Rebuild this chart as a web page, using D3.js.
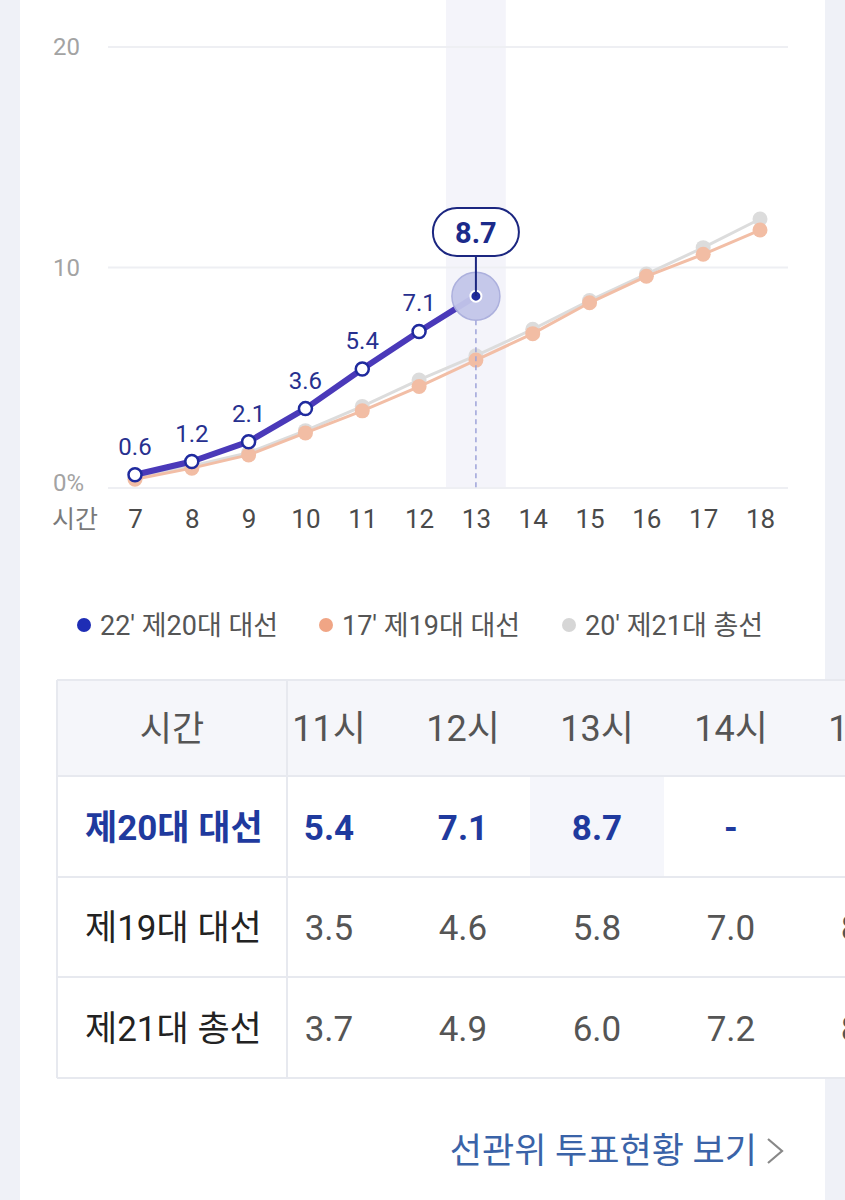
<!DOCTYPE html>
<html><head><meta charset="utf-8">
<script src="https://cdn.jsdelivr.net/npm/d3@7"></script>
<style>
html,body{margin:0;padding:0;background:#eff1f7;}
svg{display:block;}
text{font-family:Roboto,"Noto Sans CJK KR","Noto Sans",sans-serif;}
</style></head>
<body>
<svg id="c" width="845" height="1200"></svg>
<script>
// ---- data ----
const hours = [7,8,9,10,11,12,13,14,15,16,17,18];
const yTicks = [0,10,20];
const s20 = [0.6,1.2,2.1,3.6,5.4,7.1,8.7];                       // 22' 제20대 대선 (7~13시)
const s19 = [0.4,0.9,1.5,2.5,3.5,4.6,5.8,7.0,8.4,9.6,10.6,11.7];  // 17' 제19대 대선
const s21 = [0.5,1.0,1.6,2.6,3.7,4.9,6.0,7.2,8.5,9.7,10.9,12.2];  // 20' 제21대 총선
const legendLabels = ["22' 제20대 대선","17' 제19대 대선","20' 제21대 총선"];
const tableHours = [11,12,13,14,15];
const rowLabels = ["제20대 대선","제19대 대선","제21대 총선"];
const currentHour = 13;

const FONT = 'Roboto,"Noto Sans CJK KR",sans-serif';
const svg = d3.select("#c");
svg.append("rect").attr("x",0).attr("y",0).attr("width",845).attr("height",1200).attr("fill","#eff1f7");
svg.append("rect").attr("x",20).attr("y",0).attr("width",805).attr("height",1200).attr("fill","#fff");

const x = d3.scalePoint().domain(hours).range([135,760]);
const y = d3.scaleLinear().domain([0,20]).range([488,47]);
const step = x.step();

// highlight band
svg.append("rect").attr("x",x(currentHour)-step/2-1.5).attr("y",0)
  .attr("width",step+3).attr("height",y(0)).attr("fill","#f4f4fa");

// grid
const grid = svg.append("g");
grid.selectAll("line").data(yTicks).join("line")
  .attr("x1",108).attr("x2",788).attr("y1",d=>y(d)).attr("y2",d=>y(d))
  .attr("stroke","#eeeff3").attr("stroke-width",2);
grid.selectAll("text").data(yTicks).join("text")
  .attr("x",53).attr("y",d=>d===0?y(d)+3:y(d)+8)
  .attr("font-size",24).attr("fill","#a3a3a3")
  .text(d=>d===0?"0%":d);

// x axis labels
const xa = svg.append("g").attr("transform","translate(0,528)")
  .call(d3.axisBottom(x).tickSize(0).tickPadding(0));
xa.select(".domain").remove();
xa.selectAll("text").attr("font-size",26).attr("fill","#4a4a4a").attr("dy","0")
  .style("font-family",FONT);
svg.append("text").attr("x",52).attr("y",528).attr("font-size",25).attr("fill","#7a7a7a").text("시간");

const line = d3.line().x((d,i)=>x(hours[i])).y(d=>y(d));

// gray series
svg.append("path").attr("d",line(s21)).attr("fill","none").attr("stroke","#dcdcdc").attr("stroke-width",3);
svg.append("g").selectAll("circle").data(s21).join("circle")
  .attr("cx",(d,i)=>x(hours[i])).attr("cy",d=>y(d)).attr("r",7.5).attr("fill","#dcdcdc");
// orange series
svg.append("path").attr("d",line(s19)).attr("fill","none").attr("stroke","#f2bea6").attr("stroke-width",3);
svg.append("g").selectAll("circle").data(s19).join("circle")
  .attr("cx",(d,i)=>x(hours[i])).attr("cy",d=>y(d)).attr("r",7.5).attr("fill","#f2bda4");

// blue dashed guide
const cx = x(currentHour), cy = y(s20[s20.length-1]);
svg.append("line").attr("x1",cx).attr("x2",cx).attr("y1",cy+24).attr("y2",y(0))
  .attr("stroke","#9ea3d9").attr("stroke-width",1.5).attr("stroke-dasharray","5,4");

// blue series
svg.append("path").attr("d",line(s20)).attr("fill","none").attr("stroke","#4a39b9").attr("stroke-width",6).attr("stroke-linejoin","round");
svg.append("g").selectAll("circle").data(s20.slice(0,-1)).join("circle")
  .attr("cx",(d,i)=>x(hours[i])).attr("cy",d=>y(d)).attr("r",6.5)
  .attr("fill","#fff").attr("stroke","#1f2a9e").attr("stroke-width",2.5);
svg.append("g").selectAll("text").data(s20.slice(0,-1)).join("text")
  .attr("x",(d,i)=>x(hours[i])).attr("y",d=>y(d)-20).attr("text-anchor","middle")
  .attr("font-size",24).attr("fill","#27308f").text(d=>d.toFixed(1));

// current point highlight
svg.append("circle").attr("cx",cx).attr("cy",cy).attr("r",24).attr("fill","#c3c6ea").attr("stroke","#a9addc").attr("stroke-width",1.5).attr("opacity",0.95);
svg.append("circle").attr("cx",cx).attr("cy",cy).attr("r",5.5).attr("fill","#1f2a9e").attr("stroke","#fff").attr("stroke-width",2);
// callout
svg.append("line").attr("x1",cx).attr("x2",cx).attr("y1",256).attr("y2",cy).attr("stroke","#1b2680").attr("stroke-width",2);
svg.append("rect").attr("x",cx-43).attr("y",208).attr("width",86).attr("height",48).attr("rx",24)
  .attr("fill","#fff").attr("stroke","#1b2680").attr("stroke-width",2);
svg.append("text").attr("x",cx).attr("y",243).attr("text-anchor","middle").attr("font-size",29)
  .attr("font-weight","bold").attr("fill","#1b2a8a").text(s20[s20.length-1].toFixed(1));

// legend
const legColors = ["#1e2db5","#f0a585","#d6d6d6"];
const legX = [84,326,569];
const leg = svg.append("g").selectAll("g").data(legendLabels).join("g")
  .attr("transform",(d,i)=>`translate(${legX[i]},625)`);
leg.append("circle").attr("r",7).attr("fill",(d,i)=>legColors[i]);
leg.append("text").attr("x",16).attr("y",10).attr("font-size",27).attr("fill","#555").text(d=>d);

// table
const tTop = 680, rowH = [96,101,100,101];
const rowY = [tTop]; rowH.forEach((h,i)=>rowY.push(rowY[i]+h));
const colW = 134;
const colX = d3.scaleBand().domain(tableHours).range([262,262+colW*tableHours.length]);
const tbl = svg.append("g");
tbl.append("rect").attr("x",57).attr("y",tTop).attr("width",845).attr("height",rowY[4]-tTop).attr("fill","#fff");
tbl.append("rect").attr("x",57).attr("y",tTop).attr("width",845).attr("height",rowH[0]).attr("fill","#f5f6fa");
tbl.append("rect").attr("x",colX(currentHour)).attr("y",rowY[1]).attr("width",colW).attr("height",rowH[1]).attr("fill","#f5f6fb");
tbl.selectAll("line.h").data(rowY).join("line").attr("class","h")
  .attr("x1",57).attr("x2",845).attr("y1",d=>d).attr("y2",d=>d).attr("stroke","#e7e9ef").attr("stroke-width",2);
tbl.append("line").attr("x1",57).attr("x2",57).attr("y1",tTop).attr("y2",rowY[4]).attr("stroke","#e7e9ef").attr("stroke-width",2);
tbl.append("line").attr("x1",287).attr("x2",287).attr("y1",tTop).attr("y2",rowY[4]).attr("stroke","#e7e9ef").attr("stroke-width",2);
const mid = i => (rowY[i]+rowY[i+1])/2 + 13;
tbl.append("text").attr("x",172).attr("y",mid(0)).attr("text-anchor","middle").attr("font-size",35).attr("fill","#555").text("시간");
tbl.selectAll("text.hd").data(tableHours).join("text").attr("class","hd")
  .attr("x",d=>colX(d)+colW/2).attr("y",mid(0)).attr("text-anchor","middle")
  .attr("font-size",36).attr("fill","#555").text(d=>d+"시");
const series = [s20,s19,s21];
series.forEach((s,r)=>{
  const bold = r===0;
  tbl.append("text").attr("x",85).attr("y",mid(r+1)).attr("font-size",35)
    .attr("font-weight",bold?"bold":"normal").attr("fill",bold?"#1f3a9e":"#222").text(rowLabels[r]);
  tbl.selectAll("text.v"+r).data(tableHours).join("text").attr("class","v"+r)
    .attr("x",d=>colX(d)+colW/2).attr("y",mid(r+1)).attr("text-anchor","middle")
    .attr("font-size",35).attr("font-weight",bold?"bold":"normal").attr("fill",bold?"#1f3a9e":"#555")
    .text(d=>{const v=s[hours.indexOf(d)]; return v===undefined?"-":v.toFixed(1);});
});

// footer link
svg.append("text").attr("x",757).attr("y",1163).attr("text-anchor","end").attr("font-size",35).attr("fill","#3a63a8").text("선관위 투표현황 보기");
svg.append("path").attr("d","M768,1139 L782,1151 L768,1163").attr("fill","none").attr("stroke","#888").attr("stroke-width",2.2);
</script>
</body></html>
